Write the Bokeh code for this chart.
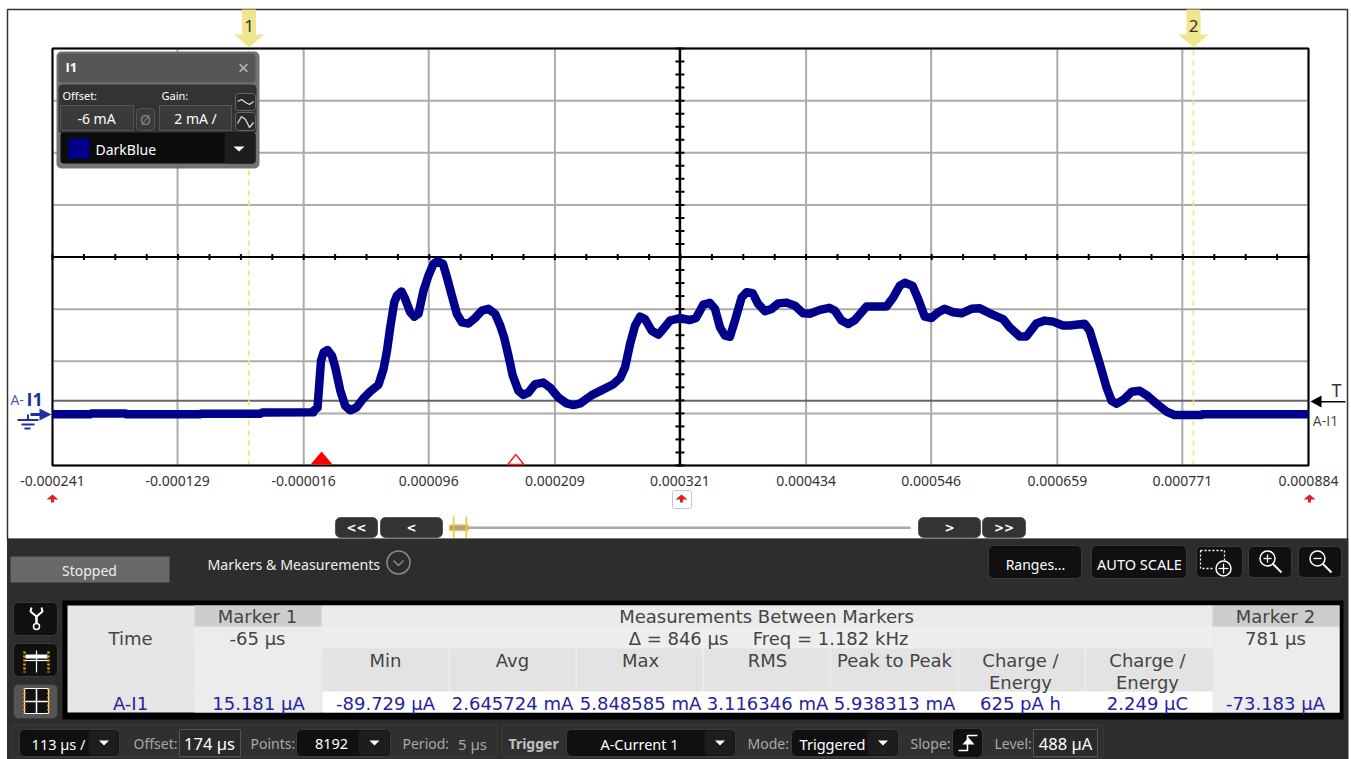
from bokeh.plotting import figure
from bokeh.models import (BoxAnnotation, Label, PolyAnnotation, FixedTicker,
                          Range1d, PrintfTickFormatter)
from bokeh.embed import file_html
from bokeh.resources import INLINE

# ---------- data ----------
TIME_US = [-241, -207, -206, -175.7, -175, -108.5, -107.6, -54.8, -53, -7.4, -7.1, -3.6, -0.5, 1.8, 5.4, 9.3, 12.3,
           16.8, 21.2, 25.7, 31.1, 37.6, 43.6, 51, 55.5, 58.6, 61.5, 65.1, 67.5, 71.6, 74.9, 79.4, 83, 86.8, 91.3,
           95.8, 100.3, 103.8, 108.7, 112.3, 116.7, 121.2, 125.7, 131.6, 137.6, 143.6, 149.5, 155.5, 160, 163.5,
           167.4, 171.3, 176.3, 180.8, 185.3, 191.3, 198.7, 204.7, 212.1, 219.6, 225.6, 231.6, 242, 251, 261.4,
           267.4, 271.8, 276.3, 280.8, 285.3, 289.7, 295.7, 301.6, 306.1, 312.1, 321, 330, 335.4, 341.9, 347.9,
           352.4, 356.9, 361.3, 365.8, 370.3, 376.3, 380.8, 386.1, 391.1, 397.1, 403.1, 409.1, 416.5, 424, 431.4,
           437.4, 446.4, 454.7, 459.8, 465.8, 471.7, 477.7, 488.1, 497.1, 506, 512, 518, 522.4, 529.3, 534.4,
           540.3, 546.3, 552.3, 558.2, 565.7, 573.2, 582.1, 589.6, 598.5, 610.4, 616.4, 625.4, 631.3, 640.3,
           647.7, 655.2, 664.1, 670.1, 683.5, 688, 690.7, 697, 703.2, 707.7, 712.2, 719.3, 725.6, 732.8, 739.9,
           748, 757, 764, 774.8, 788.3, 789, 884]
CURRENT_MA = [-0.03, -0.03, 0, 0, -0.03, -0.03, -0.01, -0.01, 0.03, 0.04, 0.10, 0.22, 2.02, 2.34, 2.43, 2.21, 1.76,
              0.87, 0.29, 0.12, 0.22, 0.58, 0.84, 1.10, 1.70, 2.40, 3.30, 4.26, 4.52, 4.68, 4.39, 3.88, 3.71, 3.82,
              4.71, 5.29, 5.74, 5.84, 5.74, 5.22, 4.52, 3.82, 3.49, 3.45, 3.66, 3.94, 4.01, 3.82, 3.37, 2.92, 2.21,
              1.44, 0.87, 0.71, 0.80, 1.12, 1.18, 0.99, 0.61, 0.38, 0.32, 0.38, 0.70, 0.89, 1.12, 1.35, 1.76, 2.66,
              3.37, 3.71, 3.62, 3.17, 3.02, 3.24, 3.56, 3.66, 3.58, 3.66, 4.17, 4.24, 4.01, 3.30, 2.98, 2.94, 3.56,
              4.45, 4.65, 4.61, 4.20, 3.92, 4.01, 4.22, 4.25, 4.13, 3.84, 3.82, 3.97, 4.05, 3.94, 3.56, 3.43, 3.58,
              4.10, 4.10, 4.10, 4.45, 4.90, 5.01, 4.90, 4.39, 3.71, 3.66, 3.88, 4.01, 3.88, 3.84, 4.01, 4.03, 3.84,
              3.62, 3.30, 2.95, 2.95, 3.45, 3.56, 3.52, 3.37, 3.37, 3.44, 3.17, 2.79, 1.90, 0.98, 0.48, 0.37, 0.56,
              0.83, 0.87, 0.67, 0.37, 0.06, -0.06, -0.06, -0.06, -0.03, -0.03]
X_TICKS = [-0.000241, -0.000129, -0.000016, 0.000096, 0.000209, 0.000321, 0.000434, 0.000546, 0.000659, 0.000771, 0.000884]
Y_TICKS = [-2, 0, 2, 4, 6, 8, 10, 12, 14]
X_MIN, X_MAX = -0.000241, 0.000884
Y_MIN, Y_MAX = -2, 14
CENTER_T, CENTER_I = 0.000321, 6
TRIGGER_LEVEL_MA = 0.488
TRIGGER_T, OFFSET_T = 0.0, 0.000174
MARKER_T = [-0.000065, 0.000781]
MARKER_NAMES = ["1", "2"]
H_MINOR = [X_MIN + i * (X_MAX - X_MIN) / 40 for i in range(41)]
V_MINOR = [Y_MIN + i * 0.5 for i in range(33)]

HEAD_COLS = ["Min", "Avg", "Max", "RMS", "Peak to Peak", "Charge /\nEnergy", "Charge /\nEnergy"]
VALS = ["-89.729 µA", "2.645724 mA", "5.848585 mA", "3.116346 mA", "5.938313 mA", "625 pA h", "2.249 µC"]
M1_TIME, M2_TIME = "-65 µs", "781 µs"
M1_VAL, M2_VAL = "15.181 µA", "-73.183 µA"

UI = "Noto Sans"
PLAIN = "Open Sans"
MONO = "DejaVu Sans"
TRACE = "#00008b"
BLUE = "#2424a0"

# the plotting area sits inside one full-page frame
W, H = 1351, 759
FR_L, FR_R, FR_T, FR_B = 52, 1308, 48, 465
KX = (X_MAX - X_MIN) / (FR_R - FR_L)
KY = (Y_MAX - Y_MIN) / (FR_B - FR_T)


def X(px):
    return X_MIN + (px - FR_L) * KX


def Y(py):
    return Y_MAX - (py - FR_T) * KY


def PX(t):
    return FR_L + (t - X_MIN) / KX


p = figure(width=W, height=H, x_range=Range1d(X(0), X(W)), y_range=Range1d(Y(H), Y(0)),
           output_backend="svg", toolbar_location=None, min_border=0, background_fill_color="#ffffff",
           border_fill_color="#ffffff", outline_line_color=None)
p.yaxis.visible = False
p.grid.visible = False
ax = p.xaxis[0]
ax.fixed_location = Y_MIN
ax.ticker = FixedTicker(ticks=X_TICKS)
ax.formatter = PrintfTickFormatter(format="%.6f")
ax.axis_line_color = None
ax.major_tick_line_color = None
ax.minor_tick_line_color = None
ax.major_label_standoff = 4
ax.major_label_text_font = UI
ax.major_label_text_font_size = "14px"
ax.major_label_text_color = "#333333"

# grid limited to the plotting area
p.segment(X_TICKS, [Y_MIN] * len(X_TICKS), X_TICKS, [Y_MAX] * len(X_TICKS), line_color="#ababab", line_width=2)
p.segment([X_MIN] * len(Y_TICKS), Y_TICKS, [X_MAX] * len(Y_TICKS), Y_TICKS, line_color="#ababab", line_width=2)

p.segment([X_MIN], [TRIGGER_LEVEL_MA], [X_MAX], [TRIGGER_LEVEL_MA], line_color="#666666", line_width=2)
p.segment([CENTER_T], [Y_MIN], [CENTER_T], [Y_MAX], line_color="#000000", line_width=2.5)
p.segment([X_MIN], [CENTER_I], [X_MAX], [CENTER_I], line_color="#000000", line_width=2)
p.scatter(H_MINOR, [CENTER_I] * len(H_MINOR), marker="dash", size=6, angle=1.5708, line_color="#000000", line_width=2)
p.scatter([CENTER_T] * len(V_MINOR), V_MINOR, marker="dash", size=9, line_color="#000000", line_width=2)
for mt in MARKER_T:
    p.segment([mt], [Y_MIN], [mt], [Y_MAX], line_color="#f0e68c", line_width=2, line_dash="5 5")
p.quad(left=[X_MIN], right=[X_MAX], bottom=[Y_MIN], top=[Y_MAX], fill_alpha=0, line_color="#000000", line_width=2)
p.line([t * 1e-6 for t in TIME_US], CURRENT_MA, line_color=TRACE, line_width=8.5, line_join="round")


def box(l, t, r, b, fill="#000000", line=None, radius=0, alpha=1.0, lw=1):
    p.add_layout(BoxAnnotation(left=X(l), right=X(r), top=Y(t), bottom=Y(b),
                               fill_color=fill, fill_alpha=alpha if fill else 0,
                               line_color=line, line_width=lw, line_alpha=1 if line else 0,
                               border_radius=radius))


def txt(x, y, s, color="#ffffff", size=14, font=UI, align="center", bold=False):
    p.add_layout(Label(x=X(x), y=Y(y), text=s, text_color=color, text_font=font,
                       text_font_size=f"{size}px", text_align=align, text_baseline="middle",
                       text_font_style="bold" if bold else "normal"))


def poly(pts, fill="#000000", line=None, lw=1):
    p.add_layout(PolyAnnotation(xs=[X(a) for a, _ in pts], ys=[Y(b) for _, b in pts],
                                fill_color=fill if fill else "#000000", fill_alpha=1 if fill else 0,
                                line_color=line if line else "#000000", line_alpha=1 if line else 0,
                                line_width=lw))


def path(pts, color="#ffffff", lw=1.5, dash="solid"):
    p.line([X(a) for a, _ in pts], [Y(b) for _, b in pts], line_color=color, line_width=lw,
           line_dash=dash, level="overlay")


def ring(x, y, size, color="#ffffff", lw=1.5):
    p.scatter([X(x)], [Y(y)], marker="circle", size=size, fill_alpha=0, line_color=color, line_width=lw, level="overlay")


# panel frame
box(7, 9, 1347, 539, fill=None, line="#333333", lw=1.5)

# marker flags
for mt, name in zip(MARKER_T, MARKER_NAMES):
    c = PX(mt)
    poly([(c - 7, 9), (c + 7, 9), (c + 7, 34), (c + 15, 34), (c, 47), (c - 15, 34), (c - 7, 34)], fill="#f0e68c")
    txt(c, 25, name, color="#333333", size=17)

# trigger / offset triangles
c = PX(TRIGGER_T)
poly([(c - 11, 464), (c, 451), (c + 11, 464)], fill="#ff0000")
c = PX(OFFSET_T)
poly([(c - 8, 464), (c, 454), (c + 8, 464)], fill="#ffffff", line="#ff2020", lw=1.5)

# channel popup
box(56, 51, 259, 168, fill="#6b6b6b", radius=5, alpha=0.95)
box(58, 53, 255, 82, fill="#565656", radius=4)
box(58, 84, 256, 133, fill="#333333", radius=4)
box(60, 132, 255, 163, fill="#0c0c0c", radius=3)
box(224, 132, 255, 163, fill="#1d1d1d", radius=3)
txt(65, 66, "I1", size=13, font=PLAIN, align="left", bold=True)
txt(243, 67, "×", color="#b8b8b8", size=20)
txt(62, 95, "Offset:", size=11, align="left")
txt(161, 95, "Gain:", size=11, align="left")
box(60, 105, 133, 130, fill="#3a3a3a", line="#555555")
box(159, 105, 231, 130, fill="#3a3a3a", line="#555555")
box(136, 108, 154, 130, fill="#3a3a3a", line="#555555", radius=4)
txt(96, 118, "-6 mA", size=14)
txt(195, 118, "2 mA /", size=14)
txt(145, 119, "Ø", color="#888888", size=14)
box(235, 93, 255, 110, fill="#2a2a2a", line="#666666", radius=3)
box(235, 112, 255, 130, fill="#2a2a2a", line="#666666", radius=3)
path([(237, 101), (241, 99), (245, 102), (249, 104), (253, 101)], color="#dddddd", lw=1.3)
path([(237, 123), (241, 116), (245, 119), (249, 127), (253, 122)], color="#dddddd", lw=1.3)
box(68, 138, 89, 158, fill=TRACE)
txt(95, 149, "DarkBlue", size=14, align="left")
poly([(233, 146), (244, 146), (238.5, 151)], fill="#ffffff")

# channel tags
txt(10, 399, "A-", color="#4a55b0", size=14, font=PLAIN, align="left")
txt(26, 398, "I1", color="#2030a0", size=18, font=PLAIN, align="left", bold=True)
box(30, 412.5, 40, 415.5, fill="#2030a0")
poly([(39, 408), (51, 414), (39, 420)], fill="#2030a0")
box(26.5, 414, 28.5, 420, fill="#2030a0")
box(17, 418.5, 38, 420.5, fill="#2030a0")
box(21, 423, 34, 425, fill="#2030a0")
box(24, 427, 30, 429, fill="#2030a0")
box(1320, 400.5, 1345, 402, fill="#000000")
poly([(1310, 401), (1321, 395), (1321, 407)], fill="#000000")
txt(1336, 389, "T", color="#333333", size=18)
txt(1325, 420, "A-I1", color="#444444", size=14, font=PLAIN)

# small red arrows on the axis
box(672, 490, 691, 508, fill="#ffffff", line="#c8c8c8", radius=2)
for cx in (52, 681, 1309):
    poly([(cx - 6, 499), (cx, 494), (cx + 6, 499), (cx + 1.5, 499), (cx + 1.5, 502), (cx - 1.5, 502), (cx - 1.5, 499)],
         fill="#dd2020")

# scroll strip
box(450, 526, 910, 528.5, fill="#a8a8a8")
box(449, 524.5, 468, 530, fill="#a0a0a0", line="#f0c830", lw=1.5, radius=2)
box(452.5, 516, 454, 538, fill="#f0c830")
box(465, 516, 466.5, 538, fill="#f0c830")
for l, r, s in [(335, 377, "<<"), (380, 442, "<"), (918, 980, ">"), (982, 1025, ">>")]:
    box(l, 517, r, 537, fill="#333333", line="#555555", radius=5)
    txt((l + r) / 2, 527, s, size=12, font="DejaVu Sans", bold=True)

# ---------- control panel ----------
box(6.5, 538, 1348, 759, fill="#2d2d2d")
box(10, 556, 169, 582, fill="#686868")
txt(89, 570, "Stopped", color="#eeeeee", size=14)
txt(207, 563.5, "Markers & Measurements", color="#f0f0f0", size=14.2, align="left")
ring(398, 562, 23, color="#8a8a8a")
path([(393, 560), (398, 565), (403, 560)], color="#8a8a8a", lw=1.5)


def btn(l, t, r, b, fill="#101010"):
    box(l, t, r, b, fill=fill, line="#3a3a3a", radius=5)


btn(988, 545, 1081, 578)
txt(1035, 563.5, "Ranges...", size=14)
btn(1091, 545, 1186, 578)
txt(1139, 563.5, "AUTO SCALE", size=14.5)
btn(1196, 546, 1242, 577)
btn(1248, 546, 1291, 577)
btn(1298, 546, 1341, 577)
path([(1200, 550), (1224, 550), (1224, 560)], lw=1.3, dash="2 2")
path([(1200, 550), (1200, 568), (1212, 568)], lw=1.3, dash="2 2")
ring(1223, 568, 15)
path([(1218, 568), (1228, 568)], lw=1.3)
path([(1223, 563), (1223, 573)], lw=1.3)
for cx, plus in [(1267, True), (1317, False)]:
    ring(cx, 558, 15)
    path([(cx + 5, 563), (cx + 14, 572)], lw=2)
    path([(cx - 4, 558), (cx + 4, 558)], lw=1.3)
    if plus:
        path([(cx, 554), (cx, 562)], lw=1.3)

# table
box(62, 600, 1343, 719, fill="#000000")
box(67, 605, 1339, 712, fill="#e6e6e6")
box(322, 605, 1212, 626, fill="#ebebeb")
box(194, 626, 1212, 648, fill="#eeeeee")
box(1212, 626, 1339, 712, fill="#ececec")
box(194, 626, 321, 691, fill="#ececec")
box(194, 691, 321, 712, fill="#ececec")
box(194, 605, 321, 626, fill="#cdcdcd")
box(1212, 605, 1339, 626, fill="#cdcdcd")
box(322, 648, 1212, 691, fill="#e3e3e3")
box(322, 691, 1212, 712, fill="#ffffff")
COL_X = [385, 512, 640, 767, 894, 1020, 1147]
for l in [448, 575, 702, 829, 957, 1084]:
    box(l, 648, l + 1.5, 691, fill="#ededed")
tc = "#444444"
FS = 18
txt(257, 616, "Marker 1", color=tc, size=FS, font=MONO)
txt(1275, 616, "Marker 2", color=tc, size=FS, font=MONO)
txt(766, 616, "Measurements Between Markers", color=tc, size=FS, font=MONO)
txt(130, 638, "Time", color=tc, size=FS, font=MONO)
txt(257, 638, M1_TIME, color=tc, size=FS, font=MONO)
txt(1275, 638, M2_TIME, color=tc, size=FS, font=MONO)
txt(678, 638, "Δ = 846 µs", color=tc, size=FS, font=MONO)
txt(830, 638, "Freq = 1.182 kHz", color=tc, size=FS, font=MONO)
for cx, h in zip(COL_X, HEAD_COLS):
    parts = h.split("\n")
    for i, s in enumerate(parts):
        txt(cx, 660 + i * 22, s, color=tc, size=FS, font=MONO)
for cx, s in zip(COL_X, VALS):
    txt(cx, 703, s, color=BLUE, size=FS, font=MONO)
txt(130, 703, "A-I1", color=BLUE, size=FS, font=MONO)
txt(258, 703, M1_VAL, color=BLUE, size=FS, font=MONO)
txt(1275, 703, M2_VAL, color=BLUE, size=FS, font=MONO)

# side buttons
btn(13, 602, 57, 635)
btn(13, 643, 57, 676)
btn(13, 684, 57, 718, fill="#555555")
ring(36, 626, 6)
path([(36, 623), (36, 615)], lw=2.5)
path([(31, 607), (30, 611), (36, 616), (42, 611), (41, 607)], lw=2)
path([(36, 650), (36, 672)], lw=1.2)
path([(24, 660), (48, 660)], lw=1.2)
path([(24, 651), (24, 672)], color="#f0a020", lw=2.5, dash="2 2")
path([(48, 651), (48, 672)], color="#f0a020", lw=2.5, dash="2 2")
box(25, 654, 47, 658, fill="#ffffff")
box(24, 688, 48, 713, fill="#111111", line="#ffffff")
path([(36, 688), (36, 713)], lw=1.5)
path([(24, 701), (48, 701)], lw=1.5)
path([(24, 688), (24, 713)], color="#f0a020", lw=2.5, dash="2 2")
path([(48, 688), (48, 713)], color="#f0a020", lw=2.5, dash="2 2")

# bottom strip
box(11, 724, 497, 757, fill="#303030", line="#3a3a3a", radius=3)
box(501, 724, 1103, 757, fill="#303030", line="#3a3a3a", radius=3)


def dropdown(l, r, s, cx, split):
    btn(l, 729, r, 756)
    box(split, 730, r - 1, 755, fill="#1d1d1d", radius=4)
    txt(cx, 743, s, size=14.5)
    m = (split + r) / 2
    poly([(m - 5, 740), (m + 5, 740), (m, 745)], fill="#ffffff")


g = "#a8a8a8"
dropdown(19, 119, "113 µs /", 58, 88)
txt(133, 743, "Offset:", color=g, size=14, align="left")
box(179, 729, 240, 756, fill="#2a2a2a", line="#555555")
txt(209, 743, "174 µs", size=16.5)
txt(250, 743, "Points:", color=g, size=14, align="left")
dropdown(296, 390, "8192", 331, 358)
txt(402, 743, "Period:", color=g, size=14, align="left")
txt(472, 743, "5 µs", color=g, size=15)
txt(508, 743, "Trigger", color="#c0c0c0", size=14, align="left", bold=True)
dropdown(566, 735, "A-Current 1", 639, 704)
txt(747, 743, "Mode:", color=g, size=14, align="left")
dropdown(791, 898, "Triggered", 832, 867)
txt(910, 743, "Slope:", color=g, size=14, align="left")
btn(952, 728, 982, 757)
path([(958, 750), (967, 750), (967, 735), (977, 735)], lw=1.5)
poly([(962, 744), (968, 737), (974, 744)], fill="#ffffff")
txt(994, 743, "Level:", color=g, size=14, align="left")
box(1033, 729, 1097, 756, fill="#2a2a2a", line="#555555")
txt(1065, 743, "488 µA", size=16.5)

open("out.html", "w").write(file_html(p, INLINE))
